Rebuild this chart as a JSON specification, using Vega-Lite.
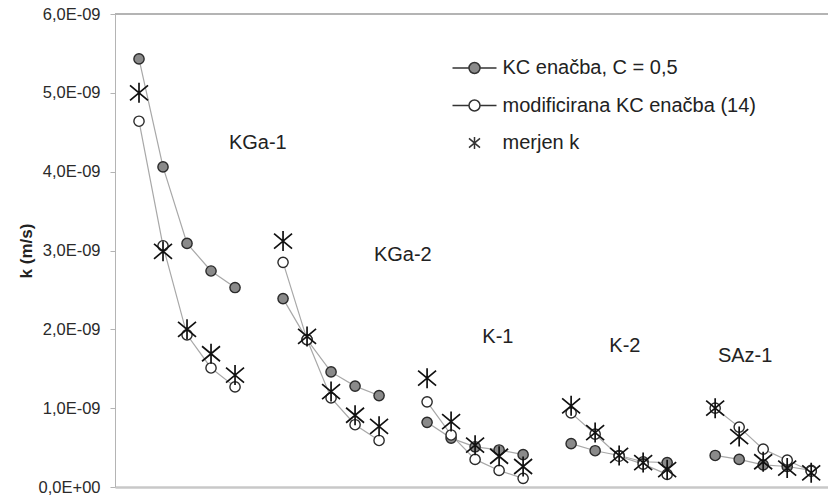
{
  "$schema": "https://vega.github.io/schema/vega-lite/v6.json",
  "width": 713,
  "height": 473,
  "autosize": "none",
  "padding": {"left": 115, "top": 14, "right": 0, "bottom": 8},
  "background": "white",
  "config": {"view": {"stroke": null}, "font": "Liberation Sans"},
  "datasets": {
    "meritve": [
      {"series": "KC enačba, C = 0,5", "sample": "KGa-1", "pos": 1, "k": 5.43e-9},
      {"series": "KC enačba, C = 0,5", "sample": "KGa-1", "pos": 2, "k": 4.06e-9},
      {"series": "KC enačba, C = 0,5", "sample": "KGa-1", "pos": 3, "k": 3.09e-9},
      {"series": "KC enačba, C = 0,5", "sample": "KGa-1", "pos": 4, "k": 2.74e-9},
      {"series": "KC enačba, C = 0,5", "sample": "KGa-1", "pos": 5, "k": 2.53e-9},
      {"series": "KC enačba, C = 0,5", "sample": "KGa-2", "pos": 7, "k": 2.39e-9},
      {"series": "KC enačba, C = 0,5", "sample": "KGa-2", "pos": 8, "k": 1.87e-9},
      {"series": "KC enačba, C = 0,5", "sample": "KGa-2", "pos": 9, "k": 1.46e-9},
      {"series": "KC enačba, C = 0,5", "sample": "KGa-2", "pos": 10, "k": 1.28e-9},
      {"series": "KC enačba, C = 0,5", "sample": "KGa-2", "pos": 11, "k": 1.16e-9},
      {"series": "KC enačba, C = 0,5", "sample": "K-1", "pos": 13, "k": 0.82e-9},
      {"series": "KC enačba, C = 0,5", "sample": "K-1", "pos": 14, "k": 0.62e-9},
      {"series": "KC enačba, C = 0,5", "sample": "K-1", "pos": 15, "k": 0.51e-9},
      {"series": "KC enačba, C = 0,5", "sample": "K-1", "pos": 16, "k": 0.47e-9},
      {"series": "KC enačba, C = 0,5", "sample": "K-1", "pos": 17, "k": 0.41e-9},
      {"series": "KC enačba, C = 0,5", "sample": "K-2", "pos": 19, "k": 0.55e-9},
      {"series": "KC enačba, C = 0,5", "sample": "K-2", "pos": 20, "k": 0.46e-9},
      {"series": "KC enačba, C = 0,5", "sample": "K-2", "pos": 21, "k": 0.40e-9},
      {"series": "KC enačba, C = 0,5", "sample": "K-2", "pos": 22, "k": 0.32e-9},
      {"series": "KC enačba, C = 0,5", "sample": "K-2", "pos": 23, "k": 0.31e-9},
      {"series": "KC enačba, C = 0,5", "sample": "SAz-1", "pos": 25, "k": 0.40e-9},
      {"series": "KC enačba, C = 0,5", "sample": "SAz-1", "pos": 26, "k": 0.35e-9},
      {"series": "KC enačba, C = 0,5", "sample": "SAz-1", "pos": 27, "k": 0.28e-9},
      {"series": "KC enačba, C = 0,5", "sample": "SAz-1", "pos": 28, "k": 0.26e-9},
      {"series": "KC enačba, C = 0,5", "sample": "SAz-1", "pos": 29, "k": 0.21e-9},

      {"series": "modificirana KC enačba (14)", "sample": "KGa-1", "pos": 1, "k": 4.64e-9},
      {"series": "modificirana KC enačba (14)", "sample": "KGa-1", "pos": 2, "k": 3.06e-9},
      {"series": "modificirana KC enačba (14)", "sample": "KGa-1", "pos": 3, "k": 1.93e-9},
      {"series": "modificirana KC enačba (14)", "sample": "KGa-1", "pos": 4, "k": 1.51e-9},
      {"series": "modificirana KC enačba (14)", "sample": "KGa-1", "pos": 5, "k": 1.27e-9},
      {"series": "modificirana KC enačba (14)", "sample": "KGa-2", "pos": 7, "k": 2.85e-9},
      {"series": "modificirana KC enačba (14)", "sample": "KGa-2", "pos": 8, "k": 1.87e-9},
      {"series": "modificirana KC enačba (14)", "sample": "KGa-2", "pos": 9, "k": 1.13e-9},
      {"series": "modificirana KC enačba (14)", "sample": "KGa-2", "pos": 10, "k": 0.79e-9},
      {"series": "modificirana KC enačba (14)", "sample": "KGa-2", "pos": 11, "k": 0.59e-9},
      {"series": "modificirana KC enačba (14)", "sample": "K-1", "pos": 13, "k": 1.08e-9},
      {"series": "modificirana KC enačba (14)", "sample": "K-1", "pos": 14, "k": 0.66e-9},
      {"series": "modificirana KC enačba (14)", "sample": "K-1", "pos": 15, "k": 0.35e-9},
      {"series": "modificirana KC enačba (14)", "sample": "K-1", "pos": 16, "k": 0.21e-9},
      {"series": "modificirana KC enačba (14)", "sample": "K-1", "pos": 17, "k": 0.11e-9},
      {"series": "modificirana KC enačba (14)", "sample": "K-2", "pos": 19, "k": 0.94e-9},
      {"series": "modificirana KC enačba (14)", "sample": "K-2", "pos": 20, "k": 0.67e-9},
      {"series": "modificirana KC enačba (14)", "sample": "K-2", "pos": 21, "k": 0.39e-9},
      {"series": "modificirana KC enačba (14)", "sample": "K-2", "pos": 22, "k": 0.29e-9},
      {"series": "modificirana KC enačba (14)", "sample": "K-2", "pos": 23, "k": 0.16e-9},
      {"series": "modificirana KC enačba (14)", "sample": "SAz-1", "pos": 25, "k": 1.00e-9},
      {"series": "modificirana KC enačba (14)", "sample": "SAz-1", "pos": 26, "k": 0.76e-9},
      {"series": "modificirana KC enačba (14)", "sample": "SAz-1", "pos": 27, "k": 0.48e-9},
      {"series": "modificirana KC enačba (14)", "sample": "SAz-1", "pos": 28, "k": 0.34e-9},
      {"series": "modificirana KC enačba (14)", "sample": "SAz-1", "pos": 29, "k": 0.20e-9},

      {"series": "merjen k", "sample": "KGa-1", "pos": 1, "k": 5.00e-9},
      {"series": "merjen k", "sample": "KGa-1", "pos": 2, "k": 2.99e-9},
      {"series": "merjen k", "sample": "KGa-1", "pos": 3, "k": 2.00e-9},
      {"series": "merjen k", "sample": "KGa-1", "pos": 4, "k": 1.69e-9},
      {"series": "merjen k", "sample": "KGa-1", "pos": 5, "k": 1.42e-9},
      {"series": "merjen k", "sample": "KGa-2", "pos": 7, "k": 3.12e-9},
      {"series": "merjen k", "sample": "KGa-2", "pos": 8, "k": 1.91e-9},
      {"series": "merjen k", "sample": "KGa-2", "pos": 9, "k": 1.21e-9},
      {"series": "merjen k", "sample": "KGa-2", "pos": 10, "k": 0.91e-9},
      {"series": "merjen k", "sample": "KGa-2", "pos": 11, "k": 0.77e-9},
      {"series": "merjen k", "sample": "K-1", "pos": 13, "k": 1.38e-9},
      {"series": "merjen k", "sample": "K-1", "pos": 14, "k": 0.83e-9},
      {"series": "merjen k", "sample": "K-1", "pos": 15, "k": 0.53e-9},
      {"series": "merjen k", "sample": "K-1", "pos": 16, "k": 0.39e-9},
      {"series": "merjen k", "sample": "K-1", "pos": 17, "k": 0.26e-9},
      {"series": "merjen k", "sample": "K-2", "pos": 19, "k": 1.03e-9},
      {"series": "merjen k", "sample": "K-2", "pos": 20, "k": 0.69e-9},
      {"series": "merjen k", "sample": "K-2", "pos": 21, "k": 0.40e-9},
      {"series": "merjen k", "sample": "K-2", "pos": 22, "k": 0.31e-9},
      {"series": "merjen k", "sample": "K-2", "pos": 23, "k": 0.22e-9},
      {"series": "merjen k", "sample": "SAz-1", "pos": 25, "k": 1.00e-9},
      {"series": "merjen k", "sample": "SAz-1", "pos": 26, "k": 0.64e-9},
      {"series": "merjen k", "sample": "SAz-1", "pos": 27, "k": 0.32e-9},
      {"series": "merjen k", "sample": "SAz-1", "pos": 28, "k": 0.24e-9},
      {"series": "merjen k", "sample": "SAz-1", "pos": 29, "k": 0.18e-9}
    ],
    "oznake": [
      {"label": "KGa-1", "pos": 5.95, "k": 4.36e-9},
      {"label": "KGa-2", "pos": 11.99, "k": 2.94e-9},
      {"label": "K-1", "pos": 15.95, "k": 1.90e-9},
      {"label": "K-2", "pos": 21.24, "k": 1.79e-9},
      {"label": "SAz-1", "pos": 26.25, "k": 1.66e-9}
    ]
  },
  "data": {"name": "meritve"},
  "encoding": {
    "x": {
      "field": "pos",
      "type": "quantitative",
      "scale": {"domain": [0, 29.7], "nice": false, "zero": false},
      "axis": {
        "title": null,
        "labels": false,
        "ticks": false,
        "grid": false,
        "domainColor": "#c8c8c8",
        "domainWidth": 2.5
      }
    },
    "y": {
      "field": "k",
      "type": "quantitative",
      "scale": {"domain": [0, 6e-9], "nice": false},
      "axis": {
        "title": "k  (m/s)",
        "titleFontSize": 17,
        "titleFontWeight": "bold",
        "titleColor": "#222",
        "titlePadding": 3,
        "values": [0, 1e-9, 2e-9, 3e-9, 4e-9, 5e-9, 6e-9],
        "labelExpr": "datum.value === 0 ? '0,0E+00' : replace(format(datum.value * 1e9, '.1f'), '.', ',') + 'E-09'",
        "labelFontSize": 16.5,
        "labelColor": "#2a2a2a",
        "labelPadding": 10,
        "tickSize": 5,
        "tickColor": "#b4b4b4",
        "domainColor": "#b4b4b4",
        "grid": false
      }
    }
  },
  "layer": [
    {
      "mark": {"type": "rule", "color": "#b4b4b4", "strokeWidth": 1.2},
      "encoding": {
        "x": {"datum": 0},
        "x2": {"datum": 29.7},
        "y": {"datum": 6e-9}
      }
    },
    {
      "transform": [{"filter": "datum.series !== 'merjen k'"}],
      "mark": {"type": "line", "color": "#a8a8a8", "strokeWidth": 1.2},
      "encoding": {
        "detail": [{"field": "series"}, {"field": "sample"}]
      }
    },
    {
      "transform": [{"filter": "datum.series === 'KC enačba, C = 0,5'"}],
      "mark": {"type": "point", "shape": "circle", "size": 105, "filled": true, "fill": "#8a8a8a", "stroke": "#2a2a2a", "strokeWidth": 1.4, "opacity": 1}
    },
    {
      "transform": [{"filter": "datum.series === 'modificirana KC enačba (14)'"}],
      "mark": {"type": "point", "shape": "circle", "size": 105, "filled": true, "fill": "#ffffff", "stroke": "#2a2a2a", "strokeWidth": 1.4, "opacity": 1}
    },
    {
      "transform": [{"filter": "datum.series === 'merjen k'"}],
      "mark": {"type": "point", "shape": "M0,-1V1M-0.9,-0.75L0.9,0.75M-0.9,0.75L0.9,-0.75", "size": 400, "filled": false, "stroke": "#111", "strokeWidth": 1.7, "opacity": 1}
    },
    {
      "data": {"name": "oznake"},
      "mark": {"type": "text", "fontSize": 20, "color": "#222", "align": "center", "baseline": "middle"},
      "encoding": {"text": {"field": "label"}}
    },
    {
      "transform": [{"filter": "false"}],
      "mark": {"type": "point", "size": 121, "filled": true, "stroke": "#333", "strokeWidth": 1.3, "opacity": 1},
      "encoding": {
        "shape": {
          "field": "series",
          "scale": {
            "domain": ["KC enačba, C = 0,5", "modificirana KC enačba (14)", "merjen k"],
            "range": [
              "M-4,0H-1M1,0H4M-1,0A1,1 0 1,1 1,0A1,1 0 1,1 -1,0Z",
              "M-4,0H-1M1,0H4M-1,0A1,1 0 1,1 1,0A1,1 0 1,1 -1,0Z",
              "M0,-1.1V1.1M-1,-0.85L1,0.85M-1,0.85L1,-0.85"
            ]
          },
          "legend": {
            "title": null,
            "orient": "none",
            "legendX": 349.5,
            "legendY": 44,
            "padding": 0,
            "rowPadding": 17.5,
            "symbolSize": 121,
            "labelFontSize": 20,
            "labelColor": "#222",
            "labelOffset": 18,
            "labelLimit": 0,
            "encode": {"symbols": {"stroke": {"value": "#333"}, "strokeWidth": {"value": 1.3}}}
          }
        },
        "fill": {
          "field": "series",
          "scale": {
            "domain": ["KC enačba, C = 0,5", "modificirana KC enačba (14)", "merjen k"],
            "range": ["#8a8a8a", "#ffffff", "#ffffff"]
          },
          "legend": {
            "title": null,
            "orient": "none",
            "legendX": 349.5,
            "legendY": 44,
            "padding": 0,
            "rowPadding": 17.5,
            "symbolSize": 121,
            "labelFontSize": 20,
            "labelColor": "#222",
            "labelOffset": 18,
            "labelLimit": 0,
            "encode": {"symbols": {"stroke": {"value": "#333"}, "strokeWidth": {"value": 1.3}}}
          }
        }
      }
    }
  ]
}
